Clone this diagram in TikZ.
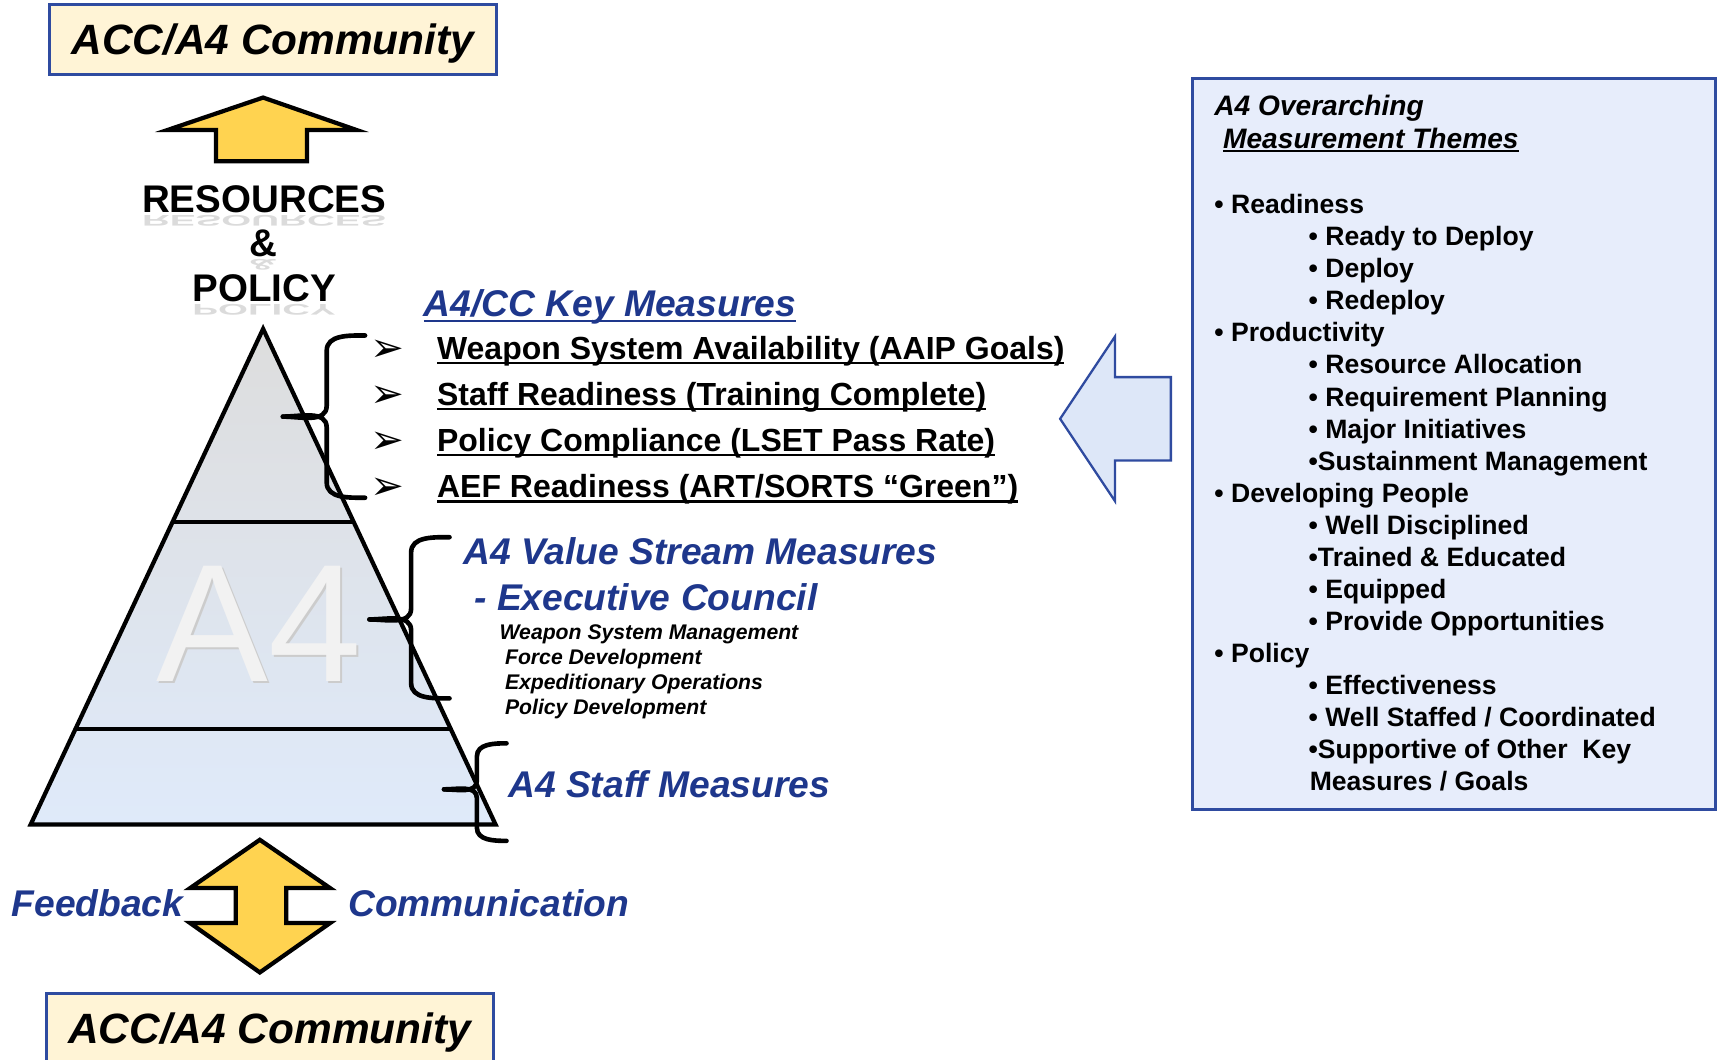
\documentclass[tikz,border=0pt]{standalone}
\usepackage{fontspec}
\setmainfont{Liberation Sans}
\newfontfamily\dejavu{DejaVu Sans}
\newcommand{\fsz}[1]{\fontsize{#1}{#1}\selectfont}
\newcommand{\ubar}[1]{\setbox0=\hbox{#1}\rlap{\rule[-0.15em]{\wd0}{0.075em}}\box0}
\definecolor{measblue}{RGB}{30,55,140}
\definecolor{frameblue}{RGB}{47,75,160}
\definecolor{cream}{RGB}{255,244,214}
\definecolor{gold}{RGB}{255,211,80}
\definecolor{paleblue}{RGB}{221,231,248}
\definecolor{themefill}{RGB}{231,237,251}
\definecolor{pyrtop}{RGB}{221,221,221}
\definecolor{pyrbot}{RGB}{223,234,250}
\tikzset{
  commbox/.style={draw=frameblue, line width=0.8pt, fill=cream, minimum width=4.08cm, minimum height=0.64cm, font=\fsz{11}\bfseries\itshape, text depth=0pt},
  bigword/.style={anchor=base, inner sep=0pt, font=\fsz{10}\bfseries},
  glow/.style={anchor=base, inner sep=0pt, font=\fsz{10}\bfseries, text=gray!28},
  bluehead/.style={anchor=base west, inner sep=0pt, text=measblue, font=\fsz{9.65}\bfseries\itshape},
  keyitem/.style={anchor=base west, inner sep=0pt, font=\fsz{8.3}\bfseries},
  council/.style={anchor=base west, inner sep=0pt, font=\fsz{5.5}\bfseries\itshape},
  theme/.style={anchor=base west, inner sep=0pt, font=\fsz{6.9}\bfseries},
  bracket/.style={line width=1.2pt, line cap=round}
}
\begin{document}
\begin{tikzpicture}
\clip (0,0) rectangle (15.68,-9.66);

\node[commbox] (topcomm) at (2.49,-0.36) {ACC/A4 Community};
\filldraw[fill=gold, line width=1.1pt, line join=miter] (2.40,-0.89) -- (3.25,-1.185) -- (2.80,-1.185) -- (2.80,-1.47) -- (1.97,-1.47) -- (1.97,-1.185) -- (1.53,-1.185) -- cycle;

\node[bigword] (resources) at (2.41,-1.94) {RESOURCES};
\node[glow] at (2.41,-1.97) {\scalebox{1}[-0.4]{RESOURCES}};
\node[bigword] (amp) at (2.40,-2.34) {\&};
\node[glow] at (2.40,-2.37) {\scalebox{1}[-0.4]{\&}};
\node[bigword] (policy) at (2.41,-2.75) {POLICY};
\node[glow] at (2.41,-2.78) {\scalebox{1}[-0.4]{POLICY}};

\shade[top color=pyrtop, bottom color=pyrbot] (2.40,-3.00) -- (0.28,-7.52) -- (4.52,-7.52) -- cycle;
\node[anchor=base, inner sep=0pt, text=gray!40, font=\fsz{43.5}] (wmshade) at (2.385,-6.23) {A4};
\node[anchor=base, inner sep=0pt, text=white!95!black, font=\fsz{43.5}] (wm) at (2.365,-6.22) {A4};
\draw[line width=1pt] (1.575,-4.76) -- (3.225,-4.76);
\draw[line width=1pt] (0.688,-6.65) -- (4.112,-6.65);
\draw[line width=1.1pt, line join=miter] (2.40,-3.00) -- (0.28,-7.52) -- (4.52,-7.52) -- cycle;

\draw[bracket] (3.33,-3.06) to[out=180,in=90] (2.98,-3.20) -- (2.98,-3.70) to[out=-90,in=0] (2.58,-3.80);
\draw[bracket] (2.58,-3.80) to[out=0,in=90] (2.98,-3.90) -- (2.98,-4.40) to[out=-90,in=180] (3.33,-4.54);
\draw[bracket] (4.10,-4.90) to[out=180,in=90] (3.75,-5.04) -- (3.75,-5.55) to[out=-90,in=0] (3.37,-5.65);
\draw[bracket] (3.37,-5.65) to[out=0,in=90] (3.75,-5.75) -- (3.75,-6.23) to[out=-90,in=180] (4.10,-6.37);
\draw[bracket] (4.62,-6.78) to[out=180,in=90] (4.35,-6.90) -- (4.35,-7.12) to[out=-90,in=0] (4.05,-7.20);
\draw[bracket] (4.05,-7.20) to[out=0,in=90] (4.35,-7.28) -- (4.35,-7.55) to[out=-90,in=180] (4.62,-7.67);

\node[bluehead] (keyhead) at (3.86,-2.89) {\ubar{A4/CC Key Measures}};
\foreach \t [count=\i] in {Weapon System Availability (AAIP Goals), Staff Readiness (Training Complete), Policy Compliance (LSET Pass Rate), AEF Readiness (ART/SORTS “Green”)} {
  \node[keyitem] (key\i) at (3.98,{-2.86-0.42*\i}) {\ubar{\t}};
  \node[anchor=base, inner sep=0pt, font=\dejavu\fsz{10.5}] (bul\i) at (3.535,{-2.875-0.42*\i}) {➢};
}

\filldraw[fill=paleblue, draw=frameblue, line width=0.6pt] (9.67,-3.82) -- (10.17,-3.07) -- (10.17,-3.44) -- (10.68,-3.44) -- (10.68,-4.20) -- (10.17,-4.20) -- (10.17,-4.57) -- cycle;

\node[bluehead] (vshead) at (4.22,-5.15) {A4 Value Stream Measures};
\node[bluehead] (vsexec) at (4.32,-5.57) {- Executive Council};
\foreach \x/\t [count=\i] in {4.55/Weapon System Management, 4.60/Force Development, 4.60/Expeditionary Operations, 4.60/Policy Development} {
  \node[council] (ws\i) at (\x,{-5.60-0.23*\i}) {\t};
}
\node[bluehead] (staff) at (4.63,-7.27) {A4 Staff Measures};

\filldraw[fill=gold, line width=1.1pt, line join=miter] (2.37,-7.66) -- (3.01,-8.10) -- (2.61,-8.10) -- (2.61,-8.42) -- (3.01,-8.42) -- (2.37,-8.87) -- (1.735,-8.42) -- (2.15,-8.42) -- (2.15,-8.10) -- (1.735,-8.10) -- cycle;
\node[bluehead] (feedback) at (0.10,-8.36) {Feedback};
\node[bluehead] (communication) at (3.17,-8.36) {Communication};

\node[commbox] (botcomm) at (2.46,-9.38) {ACC/A4 Community};

\filldraw[fill=themefill, draw=frameblue, line width=0.8pt] (10.88,-0.72) rectangle (15.65,-7.38);
\node[theme, font=\fsz{7.3}\bfseries\itshape] (themehead) at (11.07,-1.05) {A4 Overarching};
\node[theme, font=\fsz{7.3}\bfseries\itshape] (themesub) at (11.15,-1.35) {\ubar{Measurement Themes}};
\foreach \x/\t [count=\i from 0] in {11.07/{• Readiness}, 11.93/{• Ready to Deploy}, 11.93/{• Deploy}, 11.93/{• Redeploy}, 11.07/{• Productivity}, 11.93/{• Resource Allocation}, 11.93/{• Requirement Planning}, 11.93/{• Major Initiatives}, 11.93/{•Sustainment Management}, 11.07/{• Developing People}, 11.93/{• Well Disciplined}, 11.93/{•Trained \& Educated}, 11.93/{• Equipped}, 11.93/{• Provide Opportunities}, 11.07/{• Policy}, 11.93/{• Effectiveness}, 11.93/{• Well Staffed / Coordinated}, 11.93/{•Supportive of Other\ \ Key}, 11.94/{Measures / Goals}} {
  \node[theme] (theme\i) at (\x,{-1.95-0.2922*\i}) {\t};
}
\end{tikzpicture}
\end{document}
